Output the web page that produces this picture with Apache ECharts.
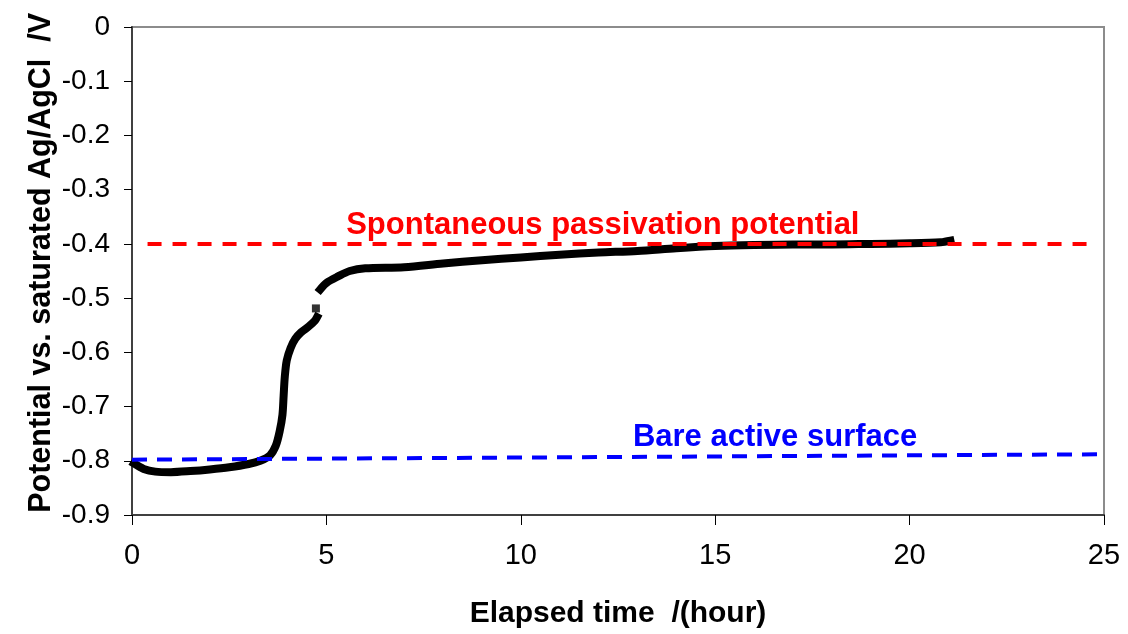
<!DOCTYPE html>
<html>
<head>
<meta charset="utf-8">
<script src="https://cdn.jsdelivr.net/npm/echarts@6/dist/echarts.min.js"></script>
<style>
html,body{margin:0;padding:0;background:#fff;}
#chart{width:1128px;height:634px;}
</style>
</head>
<body>
<div id="chart"></div>
<script>
// ---- data ----
var xTitle = 'Elapsed time  /(hour)';
var yTitle = 'Potential vs. saturated Ag/AgCl  /V';
var passLabel = 'Spontaneous passivation potential';
var bareLabel = 'Bare active surface';

// before the jump (hours, V)
var timeA = [0.05,0.3,0.6,1.0,1.5,2.0,2.5,3.0,3.3,3.55,3.7,3.8,3.87,3.9,3.93,3.98,4.08,4.2,4.35,4.55,4.7,4.76];
var potA  = [-0.805,-0.815,-0.820,-0.821,-0.819,-0.816,-0.812,-0.806,-0.800,-0.790,-0.772,-0.745,-0.715,-0.680,-0.645,-0.615,-0.592,-0.575,-0.563,-0.552,-0.542,-0.535];
// single isolated reading
var timeP = [4.73];
var potP  = [-0.519];
// after the jump
var timeB = [4.84,5.0,5.3,5.6,6.0,7.0,8.0,9.0,10.0,11.0,12.0,13.0,14.0,15.0,16.0,17.0,18.0,19.0,20.0,20.8,21.05];
var potB  = [-0.484,-0.472,-0.460,-0.450,-0.445,-0.443,-0.436,-0.430,-0.425,-0.420,-0.416,-0.413,-0.408,-0.404,-0.402,-0.401,-0.401,-0.400,-0.399,-0.397,-0.394];

// reference lines
var passTime = [0.4, 24.6];
var passPot  = [-0.4, -0.4];
var bareTime = [0, 25];
var barePot  = [-0.798, -0.788];

// label anchors (data coords)
var passLabelAt = [12.11, -0.366];
var bareLabelAt = [16.54, -0.757];
var yTitleAt = [-2.32, -0.435];

function zip(a, b){ return a.map(function(v,i){ return [v, b[i]]; }); }

var FONT = 'Arial, "Liberation Sans", sans-serif';
var chart = echarts.init(document.getElementById('chart'), null, {renderer:'canvas'});
var option = {
  animation: false,
  backgroundColor: '#fff',
  grid: {left:132, right:24, top:27, bottom:118, show:true, borderColor:'#8c8c8c', borderWidth:2, backgroundColor:'transparent'},
  xAxis: {
    type:'value', min:0, max:25, interval:5,
    name: xTitle, nameLocation:'middle', nameGap:84,
    nameTextStyle:{fontFamily:FONT, fontWeight:'bold', fontSize:30, color:'#000'},
    axisLine:{show:true, onZero:false, lineStyle:{color:'#404040', width:2}},
    axisTick:{show:true, inside:false, length:10, lineStyle:{color:'#000', width:1}},
    axisLabel:{margin:26, fontFamily:FONT, fontSize:29, color:'#000'},
    splitLine:{show:false}
  },
  yAxis: {
    type:'value', min:-0.9, max:0, interval:0.1,
    axisLine:{show:true, onZero:false, lineStyle:{color:'#404040', width:2}},
    axisTick:{show:true, inside:false, length:8, lineStyle:{color:'#000', width:1}},
    axisLabel:{margin:22, fontFamily:FONT, fontSize:28, color:'#000',
      formatter:function(v){ return (Math.round(v*10)/10).toString(); }},
    splitLine:{show:false}
  },
  series: [
    {type:'line', data: zip(passTime, passPot), showSymbol:false, symbol:'none', silent:true,
     lineStyle:{color:'#ff0000', width:4, type:[14,11]}, z:3},
    {type:'line', data: zip(bareTime, barePot), showSymbol:false, symbol:'none', silent:true,
     lineStyle:{color:'#0000ff', width:4, type:[15,10]}, z:3},
    {type:'line', data: zip(timeA, potA), showSymbol:false, symbol:'none', smooth:0.3,
     lineStyle:{color:'#000', width:8, cap:'square', join:'round'}, z:2},
    {type:'line', data: zip(timeB, potB), showSymbol:false, symbol:'none', smooth:0.3,
     lineStyle:{color:'#000', width:8, cap:'square', join:'round'}, z:2},
    {type:'scatter', data: zip(timeP, potP), symbol:'rect', symbolSize:8,
     itemStyle:{color:'#000'}, z:2}
  ]
};
chart.setOption(option);

var p1 = chart.convertToPixel({gridIndex:0}, passLabelAt);
var p2 = chart.convertToPixel({gridIndex:0}, bareLabelAt);
var p3 = chart.convertToPixel({gridIndex:0}, yTitleAt);
chart.setOption({
  graphic: [
    {type:'text', x:p1[0], y:p1[1], z:10,
     style:{text:passLabel, fill:'#ff0000', font:'bold 31px ' + FONT, textAlign:'center', textVerticalAlign:'middle'}},
    {type:'text', x:p2[0], y:p2[1], z:10,
     style:{text:bareLabel, fill:'#0000ff', font:'bold 31px ' + FONT, textAlign:'center', textVerticalAlign:'middle'}},
    {type:'text', x:p3[0], y:p3[1], rotation:Math.PI/2, z:10,
     style:{text:yTitle, fill:'#000', font:'bold 30.5px ' + FONT, textAlign:'center', textVerticalAlign:'middle'}}
  ]
});
</script>
</body>
</html>
